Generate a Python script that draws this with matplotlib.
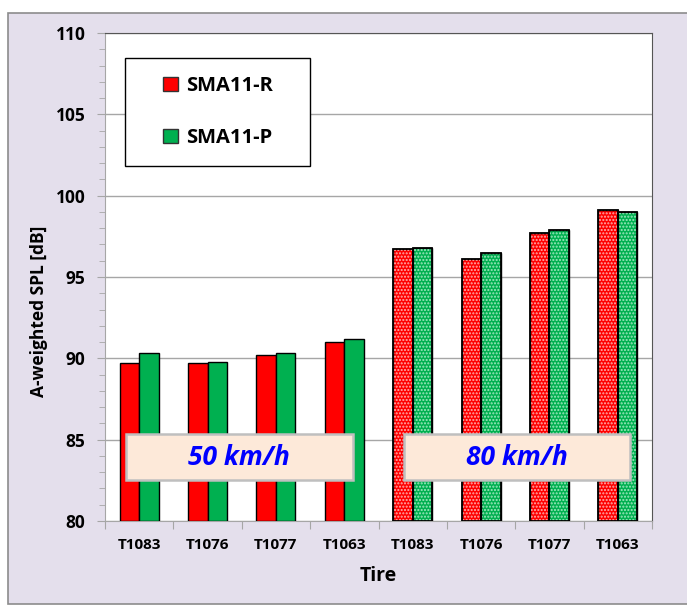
import numpy as np
import matplotlib.pyplot as plt
from matplotlib.patches import Rectangle

# tire labels for the two speed groups
tires = ["T1083", "T1076", "T1077", "T1063", "T1083", "T1076", "T1077", "T1063"]
spl_r = [89.7, 89.7, 90.2, 91.0, 96.7, 96.1, 97.7, 99.1]
spl_p = [90.3, 89.8, 90.3, 91.2, 96.8, 96.5, 97.9, 99.0]
speeds = ["50 km/h", "80 km/h"]

plt.rcParams['font.family'] = ['Open Sans', 'DejaVu Sans']
plt.rcParams['hatch.linewidth'] = 1.0

fig = plt.figure(figsize=(6.87, 6.06), dpi=100)
fig.patch.set_facecolor('white')
# lavender chart area with gray frame
bg = Rectangle((8 / 687, 2 / 606), 1.0, 1 - 15 / 606, transform=fig.transFigure,
               facecolor='#E4DFEC', edgecolor='#8C8C8C', lw=1.2, zorder=-1)
fig.add_artist(bg)

ax = fig.add_axes([105 / 687, 1 - 521 / 606, 547 / 687, 488 / 606])
ax.set_zorder(1)
ax.set_facecolor('white')

x = np.arange(len(tires))
w = 0.285
red = '#FF0000'
green = '#00B050'

for i in range(len(tires)):
    ax.bar(x[i] - w / 2, spl_r[i] - 80, w, bottom=80, color=red, edgecolor='black', lw=1.0, zorder=3)
    ax.bar(x[i] + w / 2, spl_p[i] - 80, w, bottom=80, color=green, edgecolor='black', lw=1.0, zorder=3)
    if i >= 4:
        # dotted fill for 80 km/h bars
        ax.bar(x[i] - w / 2, spl_r[i] - 80, w, bottom=80, fill=False, edgecolor='#FFB0B0',
               hatch='.....', lw=0, zorder=4)
        ax.bar(x[i] + w / 2, spl_p[i] - 80, w, bottom=80, fill=False, edgecolor='#A0E8C0',
               hatch='.....', lw=0, zorder=4)
        ax.bar(x[i] - w / 2, spl_r[i] - 80, w, bottom=80, fill=False, edgecolor='black', lw=1.3, zorder=5)
        ax.bar(x[i] + w / 2, spl_p[i] - 80, w, bottom=80, fill=False, edgecolor='black', lw=1.3, zorder=5)

ax.set_xlim(-0.5, 7.5)
ax.set_ylim(80, 110)
ax.set_yticks(np.arange(80, 111, 5))
ax.set_yticks(np.arange(80, 111, 1), minor=True)
ax.yaxis.grid(True, color='#A6A6A6', lw=1.0, zorder=0)
ax.set_axisbelow(True)

ax.set_xticks(np.arange(-0.5, 8, 1))
ax.set_xticklabels([])
ax.set_xticks(x, minor=True)
ax.set_xticklabels(tires, minor=True, fontsize=11, fontweight='bold')
ax.tick_params(axis='x', which='minor', length=0, pad=12)
ax.tick_params(axis='x', which='major', length=6, color='#A6A6A6', direction='out')
ax.tick_params(axis='y', which='major', length=6, color='#A6A6A6', labelsize=12.5, pad=8)
ax.tick_params(axis='y', which='minor', length=4, color='#A6A6A6')
for lab in ax.get_yticklabels():
    lab.set_fontweight('bold')

for s in ['left', 'bottom']:
    ax.spines[s].set_color('#A6A6A6')
for s in ['top', 'right']:
    ax.spines[s].set_color('#555555')

ax.set_xlabel('Tire', fontsize=14, fontweight='bold', labelpad=10)
ax.set_ylabel('A-weighted SPL [dB]', fontsize=12.5, fontweight='bold')
ax.yaxis.set_label_coords(-57 / 547, 210 / 488)

# speed labels in shaded boxes
for k, sp in enumerate(speeds):
    x0 = -0.19 + 4.06 * k
    ax.add_patch(Rectangle((x0, 82.52), 3.31, 2.83, facecolor='#FDE9D9',
                           edgecolor='#BFBFBF', lw=1.8, zorder=5))
    ax.text(x0 + 1.65, 83.9, sp, ha='center', va='center', fontsize=19, fontweight='bold',
            style='italic', color='#0000FF', zorder=6)

# legend: frame drawn separately, entries centred in it
ax.add_patch(Rectangle((20 / 547, 1 - 133 / 488), 185 / 547, 108 / 488, transform=ax.transAxes,
                       facecolor='white', edgecolor='black', lw=1.0, zorder=6))
leg = ax.legend(handles=[Rectangle((0, 0), 1, 1, facecolor=red, edgecolor='#333333'),
                         Rectangle((0, 0), 1, 1, facecolor=green, edgecolor='#333333')],
                labels=['SMA11-R', 'SMA11-P'], loc='center',
                bbox_to_anchor=(113 / 547, 1 - 79 / 488), frameon=False,
                prop={'weight': 'bold', 'size': 14.5}, handlelength=0.7, handleheight=0.7,
                handletextpad=0.4, labelspacing=1.55)
leg.set_zorder(7)

plt.savefig('out.png', dpi=100)
